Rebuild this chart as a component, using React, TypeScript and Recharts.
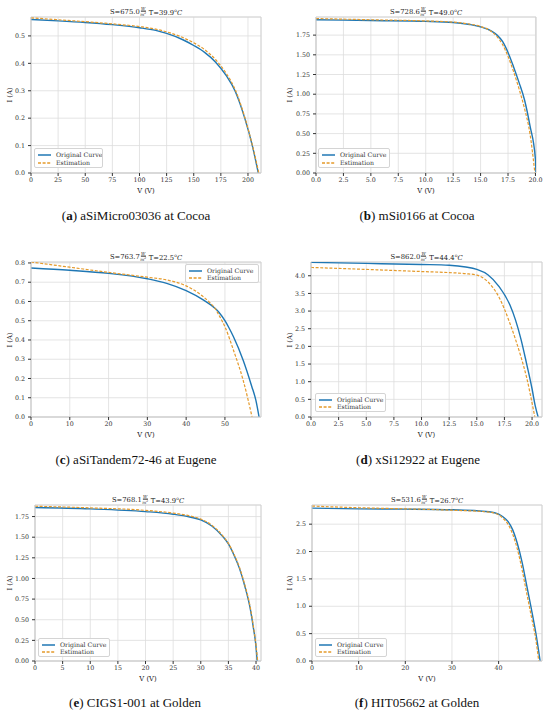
import { LineChart, Line, XAxis, YAxis, CartesianGrid, ReferenceArea, Legend } from 'recharts'

type Pt = [number, number]

const BLUE = '#1f77b4'
const ORANGE = '#e59a2b'
const FONT = '"DejaVu Serif", serif'
const CAPTION_FONT = '"Liberation Serif", serif'

// (a) aSiMicro03036 at Cocoa
const aOriginal: Pt[] = [
  [0, 0.56], [25, 0.555], [50, 0.549], [75, 0.541], [100, 0.53], [115, 0.52], [125, 0.509],
  [140, 0.486], [150, 0.465], [160, 0.44], [170, 0.405], [180, 0.355], [188, 0.3], [197, 0.2],
  [204, 0.1], [209.5, 0],
]
const aEstimation: Pt[] = [
  [0, 0.566], [25, 0.559], [50, 0.552], [75, 0.544], [100, 0.534], [115, 0.525], [125, 0.515],
  [140, 0.494], [150, 0.475], [160, 0.45], [170, 0.414], [180, 0.363], [188, 0.306], [197, 0.204],
  [204, 0.102], [210, 0],
]
const aXTicks = [0, 25, 50, 75, 100, 125, 150, 175, 200]
const aYTicks = [0, 0.1, 0.2, 0.3, 0.4, 0.5]

// (b) mSi0166 at Cocoa
const bOriginal: Pt[] = [
  [0, 1.945], [5, 1.935], [10, 1.925], [12.5, 1.91], [14, 1.885], [15, 1.855], [16, 1.8],
  [16.5, 1.75], [17, 1.67], [17.5, 1.53], [18, 1.35], [18.5, 1.15], [19, 0.93], [19.5, 0.6],
  [20, 0.17], [20.05, 0],
]
const bEstimation: Pt[] = [
  [0, 1.96], [5, 1.945], [10, 1.93], [12.5, 1.915], [14, 1.89], [15, 1.86], [16, 1.795],
  [16.5, 1.73], [17, 1.63], [17.5, 1.48], [18, 1.29], [18.5, 1.07], [19, 0.82], [19.5, 0.5],
  [19.95, 0],
]
const bXTicks = [0, 2.5, 5, 7.5, 10, 12.5, 15, 17.5, 20]
const bYTicks = [0, 0.25, 0.5, 0.75, 1, 1.25, 1.5, 1.75]

// (c) aSiTandem72-46 at Eugene
const cOriginal: Pt[] = [
  [0, 0.774], [10, 0.762], [20, 0.746], [30, 0.718], [35, 0.694], [40, 0.656], [44.4, 0.608],
  [47.4, 0.565], [48.5, 0.543], [50, 0.5], [51, 0.465], [52.2, 0.417], [54.7, 0.295],
  [56.9, 0.16], [58, 0.085], [58.8, 0],
]
const cEstimation: Pt[] = [
  [0, 0.805], [10, 0.778], [20, 0.751], [30, 0.726], [35, 0.712], [40, 0.681], [44.4, 0.625],
  [46, 0.596], [47.4, 0.565], [48.7, 0.52], [50, 0.469], [52.2, 0.347], [54.7, 0.191], [57, 0],
]
const cXTicks = [0, 10, 20, 30, 40, 50]
const cYTicks = [0, 0.1, 0.2, 0.3, 0.4, 0.5, 0.6, 0.7, 0.8]

// (d) xSi12922 at Eugene
const dOriginal: Pt[] = [
  [0, 4.378], [5, 4.35], [10, 4.32], [12.5, 4.3], [14, 4.25], [15, 4.18], [16, 4.03], [17, 3.7],
  [18, 3.17], [18.5, 2.75], [19, 2.2], [19.5, 1.52], [20, 0.8], [20.3, 0.3], [20.55, 0],
]
const dEstimation: Pt[] = [
  [0, 4.236], [5, 4.18], [10, 4.12], [12.5, 4.09], [14, 4.06], [15, 4.02], [16, 3.83], [17, 3.4],
  [18, 2.65], [18.5, 2.2], [19, 1.7], [19.5, 1.13], [20, 0.4], [20.25, 0],
]
const dXTicks = [0, 2.5, 5, 7.5, 10, 12.5, 15, 17.5, 20]
const dYTicks = [0, 0.5, 1, 1.5, 2, 2.5, 3, 3.5, 4]

// (e) CIGS1-001 at Golden
const eOriginal: Pt[] = [
  [0, 1.859], [10, 1.843], [20, 1.81], [25, 1.778], [28, 1.745], [30, 1.71], [32, 1.636],
  [34, 1.507], [35, 1.418], [36, 1.284], [37, 1.122], [38, 0.9], [39, 0.616], [39.5, 0.41],
  [40, 0.17], [40.2, 0],
]
const eEstimation: Pt[] = [
  [0, 1.875], [10, 1.855], [20, 1.825], [25, 1.792], [28, 1.758], [30, 1.72], [32, 1.645],
  [34, 1.515], [35, 1.425], [36, 1.295], [37, 1.135], [38, 0.915], [39, 0.635], [39.5, 0.43],
  [40, 0.19], [40.3, 0],
]
const eXTicks = [0, 5, 10, 15, 20, 25, 30, 35, 40]
const eYTicks = [0, 0.25, 0.5, 0.75, 1, 1.25, 1.5, 1.75]

// (f) HIT05662 at Golden
const fOriginal: Pt[] = [
  [0, 2.793], [10, 2.78], [20, 2.775], [30, 2.763], [38, 2.726], [40, 2.683], [41, 2.63],
  [42, 2.55], [43, 2.4], [44, 2.15], [45, 1.815], [46, 1.39], [47, 0.96], [48, 0.5], [48.9, 0],
]
const fEstimation: Pt[] = [
  [0, 2.83], [10, 2.8], [20, 2.78], [30, 2.755], [38, 2.72], [40, 2.67], [41, 2.6], [42, 2.5],
  [43, 2.32], [44, 2.05], [45, 1.68], [46, 1.25], [47, 0.82], [48, 0.38], [48.6, 0],
]
const fXTicks = [0, 10, 20, 30, 40]
const fYTicks = [0, 0.5, 1, 1.5, 2, 2.5]

interface PanelDef {
  letter: string
  caption: string
  irradiance: string
  temp: string
  original: Pt[]
  estimation: Pt[]
  xMax: number
  yMax: number
  xTicks: number[]
  yTicks: number[]
  xDigits: number
  yDigits: number
  plot: [number, number, number, number]
  legend: [number, number, number, number]
  captionX: number
  captionY: number
  yLabelX: number
}

const panels: PanelDef[] = [
  {
    letter: 'a', caption: 'aSiMicro03036 at Cocoa', irradiance: '675.0', temp: '39.9',
    original: aOriginal, estimation: aEstimation, xMax: 212, yMax: 0.569,
    xTicks: aXTicks, yTicks: aYTicks, xDigits: 0, yDigits: 1,
    plot: [31, 17, 261, 173], legend: [34, 148, 103, 168], captionX: 136, captionY: 216, yLabelX: 10,
  },
  {
    letter: 'b', caption: 'mSi0166 at Cocoa', irradiance: '728.6', temp: '49.0',
    original: bOriginal, estimation: bEstimation, xMax: 20.05, yMax: 1.98,
    xTicks: bXTicks, yTicks: bYTicks, xDigits: 1, yDigits: 2,
    plot: [316, 17, 536, 173], legend: [318, 148, 390, 168], captionX: 417, captionY: 216, yLabelX: 290,
  },
  {
    letter: 'c', caption: 'aSiTandem72-46 at Eugene', irradiance: '763.7', temp: '22.5',
    original: cOriginal, estimation: cEstimation, xMax: 59.3, yMax: 0.805,
    xTicks: cXTicks, yTicks: cYTicks, xDigits: 0, yDigits: 1,
    plot: [31, 262, 261, 417], legend: [185, 264, 259, 283], captionX: 136, captionY: 460, yLabelX: 10,
  },
  {
    letter: 'd', caption: 'xSi12922 at Eugene', irradiance: '862.0', temp: '44.4',
    original: dOriginal, estimation: dEstimation, xMax: 20.9, yMax: 4.39,
    xTicks: dXTicks, yTicks: dYTicks, xDigits: 1, yDigits: 1,
    plot: [311, 262, 542, 417], legend: [315, 393, 386, 412], captionX: 418, captionY: 460, yLabelX: 290,
  },
  {
    letter: 'e', caption: 'CIGS1-001 at Golden', irradiance: '768.1', temp: '43.9',
    original: eOriginal, estimation: eEstimation, xMax: 40.9, yMax: 1.89,
    xTicks: eXTicks, yTicks: eYTicks, xDigits: 0, yDigits: 2,
    plot: [35, 505, 261, 661], legend: [38, 638, 110, 657], captionX: 135, captionY: 703, yLabelX: 10,
  },
  {
    letter: 'f', caption: 'HIT05662 at Golden', irradiance: '531.6', temp: '26.7',
    original: fOriginal, estimation: fEstimation, xMax: 49.3, yMax: 2.85,
    xTicks: fXTicks, yTicks: fYTicks, xDigits: 0, yDigits: 1,
    plot: [312, 505, 542, 661], legend: [315, 638, 387, 657], captionX: 417, captionY: 703, yLabelX: 290,
  },
]

const toRows = (pts: Pt[]) => pts.map(([v, i]) => ({ v, i }))

const tickStyle = { fontSize: 6.3, fontFamily: FONT, fill: '#333' }
const textStyle = { position: 'absolute' as const, fontFamily: FONT, fontSize: 6.8, color: '#222', whiteSpace: 'nowrap' as const }

function LegendBox({ w, h }: { w: number; h: number }) {
  const row = (label: string, color: string, dash?: string) => (
    <div style={{ display: 'flex', alignItems: 'center', height: (h - 4) / 2, whiteSpace: 'nowrap' }}>
      <svg width={13} height={4} style={{ marginRight: 5, flexShrink: 0 }}>
        <line x1={0} y1={2} x2={13} y2={2} stroke={color} strokeWidth={1.3} strokeDasharray={dash} />
      </svg>
      <span style={{ fontFamily: FONT, fontSize: 6.2, lineHeight: 1, color: '#333' }}>{label}</span>
    </div>
  )
  return (
    <div style={{
      width: w, height: h, boxSizing: 'border-box', border: '0.8px solid #d4d4d4', borderRadius: 2,
      background: 'rgba(255,255,255,0.85)', padding: '2px 3px', overflow: 'hidden',
    }}>
      {row('Original Curve', BLUE)}
      {row('Estimation', ORANGE, '3 1.6')}
    </div>
  )
}

function Panel({ p }: { p: PanelDef }) {
  const [x0, y0, x1, y1] = p.plot
  const yW = 28
  const xH = 16
  const mt = 2
  const mr = 12
  const left = x0 - yW
  const top = y0 - mt
  const width = x1 - x0 + yW + mr
  const height = y1 - y0 + mt + xH
  const [lx0, ly0, lx1, ly1] = p.legend
  const cx = (x0 + x1) / 2
  const cy = (y0 + y1) / 2

  return (
    <>
      <div style={{ position: 'absolute', left, top }}>
        <LineChart width={width} height={height} margin={{ top: mt, right: mr, left: 0, bottom: 0 }}>
          <CartesianGrid stroke="#dddddd" strokeWidth={0.8} />
          <XAxis
            type="number" dataKey="v" domain={[0, p.xMax]} ticks={p.xTicks} interval={0}
            allowDataOverflow height={xH} tick={tickStyle} tickSize={3} tickMargin={2}
            axisLine={{ stroke: '#cfcfcf' }} tickLine={{ stroke: '#333' }}
            tickFormatter={(v: number) => v.toFixed(p.xDigits)}
          />
          <YAxis
            type="number" domain={[0, p.yMax]} ticks={p.yTicks} interval={0}
            allowDataOverflow width={yW} tick={tickStyle} tickSize={3} tickMargin={3}
            axisLine={{ stroke: '#cfcfcf' }} tickLine={{ stroke: '#333' }}
            tickFormatter={(v: number) => v.toFixed(p.yDigits)}
          />
          <ReferenceArea x1={0} x2={p.xMax} y1={0} y2={p.yMax} fill="none" stroke="#cfcfcf" strokeWidth={0.8} />
          <Line
            data={toRows(p.original)} dataKey="i" name="Original Curve" type="monotone"
            stroke={BLUE} strokeWidth={1.4} dot={false} isAnimationActive={false}
          />
          <Line
            data={toRows(p.estimation)} dataKey="i" name="Estimation" type="monotone"
            stroke={ORANGE} strokeWidth={1.2} strokeDasharray="3 1.6" dot={false} isAnimationActive={false}
          />
          <Legend
            layout="horizontal" verticalAlign="middle" align="center"
            wrapperStyle={{ left: lx0 - left, top: ly0 - top, width: lx1 - lx0, height: ly1 - ly0 }}
            content={() => <LegendBox w={lx1 - lx0} h={ly1 - ly0} />}
          />
        </LineChart>
      </div>

      <div style={{ ...textStyle, left: cx, top: y0 - 5, transform: 'translate(-50%, -50%)', display: 'flex', alignItems: 'center' }}>
        <span>S={p.irradiance}</span>
        <span style={{ display: 'inline-flex', flexDirection: 'column', alignItems: 'center', fontSize: 4.2, lineHeight: 1, fontStyle: 'italic', margin: '0 0.5px' }}>
          <span style={{ borderBottom: '0.5px solid #222', padding: '0 0.5px' }}>W</span>
          <span>m<sup style={{ fontSize: 3 }}>2</sup></span>
        </span>
        <span>&nbsp;T={p.temp}<sup style={{ fontSize: 4.5 }}>o</sup><i>C</i></span>
      </div>

      <div style={{ ...textStyle, left: cx, top: y1 + 18, transform: 'translate(-50%, -50%)' }}>V (V)</div>

      <div style={{ ...textStyle, left: p.yLabelX, top: cy, transform: 'translate(-50%, -50%) rotate(-90deg)' }}>I (A)</div>

      <div style={{
        position: 'absolute', left: p.captionX, top: p.captionY, transform: 'translate(-50%, -50%)',
        fontFamily: CAPTION_FONT, fontSize: 13, color: '#111', whiteSpace: 'nowrap',
      }}>
        (<b>{p.letter}</b>) {p.caption}
      </div>
    </>
  )
}

export default function App() {
  return (
    <div style={{ position: 'absolute', left: 0, top: 0, width: 550, height: 714, background: '#fff', overflow: 'hidden' }}>
      {panels.map(p => <Panel key={p.letter} p={p} />)}
    </div>
  )
}
